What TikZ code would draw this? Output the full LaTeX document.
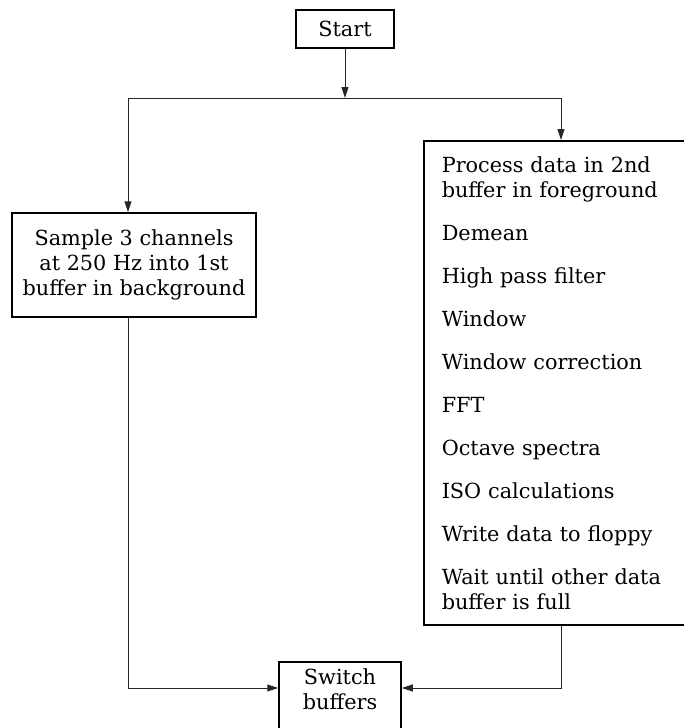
\documentclass[tikz,border=0pt]{standalone}
\usepackage{fontspec}
\setmainfont{DejaVu Serif}
\usetikzlibrary{arrows.meta}

\begin{document}
\begin{tikzpicture}[x=1pt,y=-1pt,>={Triangle[length=11pt,width=7pt]},
  box/.style={draw,line width=1.5pt,inner sep=0pt,align=center,font=\fontsize{20.8}{25}\selectfont},
  link/.style={line width=1pt,draw=black!85}]
  \useasboundingbox (0,0) rectangle (684,728);
  \node[box,minimum width=98,minimum height=38] (start) at (345,29) {Start};
  \node[box,minimum width=244,minimum height=104] (sample) at (134,265)
    {Sample 3 channels\\at 250 Hz into 1st\\buffer in background};
  \node[box,anchor=north west,align=left,text width=241,inner xsep=18pt,minimum height=484] (proc) at (423,140)
    {Process data in 2nd\\buffer in foreground\\[18pt]
     Demean\\[18pt]
     High pass filter\\[18pt]
     Window\\[18pt]
     Window correction\\[18pt]
     FFT\\[18pt]
     Octave spectra\\[18pt]
     ISO calculations\\[18pt]
     Write data to floppy\\[18pt]
     Wait until other data\\buffer is full};
  \node[box,anchor=north,minimum width=122,inner ysep=7pt,text depth=22pt] (switch) at (340,661)
    {Switch\\buffers};
  \coordinate (forkL) at (128,98);
  \coordinate (forkR) at (561,98);
  \coordinate (mergeL) at (128,688);
  \coordinate (mergeR) at (561,688);
  \draw[link,->] (start) -- (start |- forkL);
  \draw[link] (forkL) -- (forkR);
  \draw[link,->] (forkL) -- (forkL |- sample.north);
  \draw[link,->] (forkR) -- (forkR |- proc.north);
  \draw[link,->] (forkL |- sample.south) -- (mergeL) -- (mergeL -| switch.west);
  \draw[link,->] (forkR |- proc.south) -- (mergeR) -- (mergeR -| switch.east);
\end{tikzpicture}
\end{document}
